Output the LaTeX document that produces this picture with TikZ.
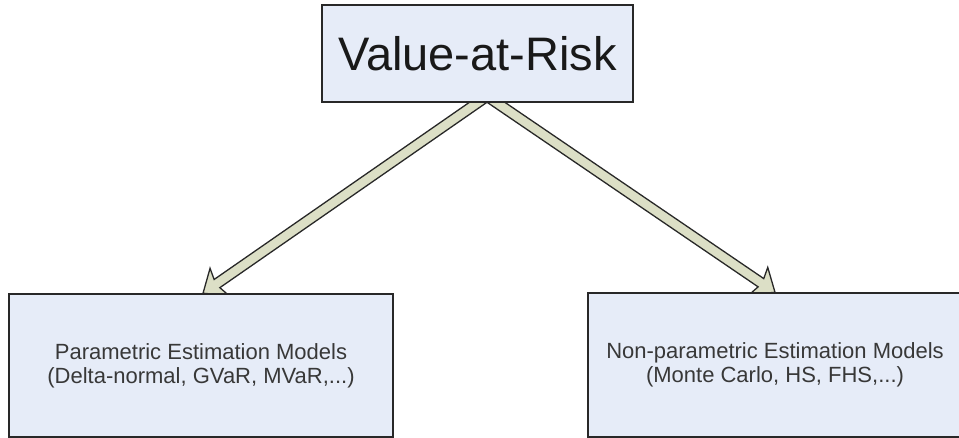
\documentclass[tikz,border=0pt]{standalone}
\usepackage{fontspec}
\setmainfont{Liberation Sans}
\usetikzlibrary{calc,backgrounds}
\definecolor{boxfill}{RGB}{230,236,248}
\definecolor{arrowfill}{RGB}{220,223,198}
\definecolor{edgegray}{RGB}{40,40,40}
% broad outlined arrow from #1 to #2
\newcommand\fatarrow[2]{%
    \filldraw[fat] let \p1=(#1), \p2=(#2), \n1={atan2(\y2-\y1,\x2-\x1)}, \n2={veclen(\x2-\x1,\y2-\y1)} in
        [shift={(\p1)}, rotate=\n1] (0,-5) -- (\n2-17,-5) -- (\n2-20,-16.5) -- (\n2,0) -- (\n2-20,16.5) -- (\n2-17,5) -- (0,5) -- cycle;}
\begin{document}
\begin{tikzpicture}[x=1pt, y=1pt,
    box/.style = {draw=edgegray, fill=boxfill, line width=1.4pt, inner sep=0pt, align=center},
    small/.style = {font=\fontsize{22}{24}\selectfont, text=black!78},
    fat/.style = {draw=edgegray, fill=arrowfill, line width=1.3pt, line join=miter}]
    \useasboundingbox (0,0) rectangle (959,438);
    \node[box, minimum width=311pt, minimum height=97pt, font=\fontsize{47}{50}\selectfont, text=black!90] (var) at (477.5,384.5) {Value-at-Risk};
    \node[box, small, minimum width=384pt, minimum height=143pt] (param) at (201,72.5) {Parametric Estimation Models\\(Delta-normal, GVaR, MVaR,...)};
    \node[box, small, minimum width=374pt, minimum height=144pt] (nonparam) at (775,73) {Non-parametric Estimation Models\\(Monte Carlo, HS, FHS,...)};
    \coordinate (root) at ([xshift=9.5pt, yshift=6.5pt]var.south);
    \coordinate (leftend) at ([xshift=2pt]param.north);
    \begin{pgfonlayer}{background}
        \fatarrow{root}{leftend}
        \fatarrow{root}{nonparam.north}
    \end{pgfonlayer}
\end{tikzpicture}
\end{document}
